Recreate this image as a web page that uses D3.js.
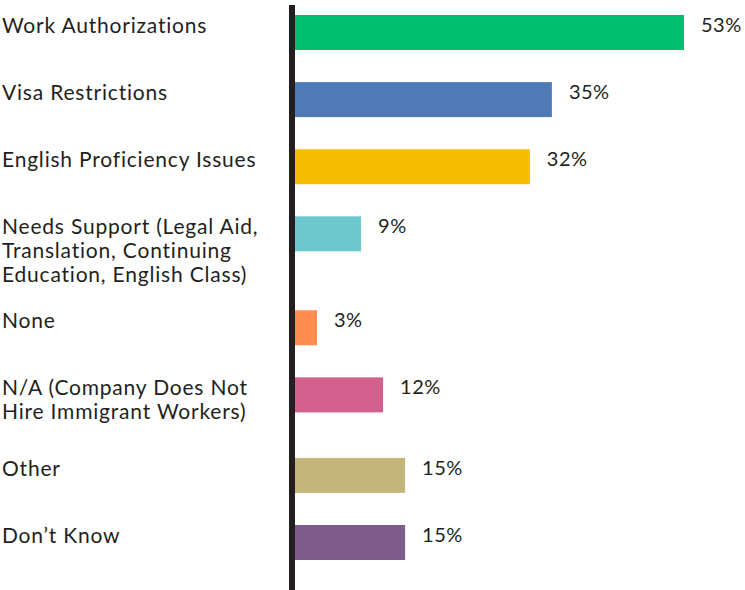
<!DOCTYPE html>
<html>
<head>
<meta charset="utf-8">
<script src="https://cdn.jsdelivr.net/npm/d3@7"></script>
<style>
  html, body { margin: 0; padding: 0; background: #ffffff; }
  svg { display: block; }
  text { font-family: Lato, "Open Sans", sans-serif; fill: #231f20; }
</style>
</head>
<body>
<svg id="chart" width="745" height="590"></svg>
<script>
// Survey responses: barriers to hiring immigrant workers
const categories = [
  ["Work Authorizations"],
  ["Visa Restrictions"],
  ["English Proficiency Issues"],
  ["Needs Support (Legal Aid,", "Translation, Continuing", "Education, English Class)"],
  ["None"],
  ["N/A (Company Does Not", "Hire Immigrant Workers)"],
  ["Other"],
  ["Don\u2019t Know"]
];
const values = [53, 35, 32, 9, 3, 12, 15, 15];
const colors = ["#00bf6f", "#4f7ab5", "#f6be00", "#6cc8cc", "#ff8c50", "#d25f8c", "#c4b57a", "#7e5c8c"];

const svg = d3.select("#chart");
const W = 745, H = 590;
const axisX = 292;
const barH = 35;
const lineH = 24;

// Rows with multi-line labels take a little extra room below them.
const extraPerLine = 0.2;
const rowUnits = [];
let acc = 0;
categories.forEach((lines, i) => {
  rowUnits.push(acc);
  acc += 1 + (lines.length - 1) * extraPerLine;
});
const y = d3.scaleLinear()
  .domain([0, rowUnits[rowUnits.length - 1]])
  .range([15, 525]);

const x = d3.scaleLinear()
  .domain([0, 53])
  .range([295, 684]);

const rows = categories.map((lines, i) => ({
  lines, value: values[i], color: colors[i], top: y(rowUnits[i])
}));

// Bars
svg.append("g").selectAll("rect")
  .data(rows)
  .join("rect")
  .attr("x", x(0))
  .attr("y", d => d.top)
  .attr("width", d => x(d.value) - x(0))
  .attr("height", barH)
  .attr("fill", d => d.color);

// Value labels
svg.append("g").selectAll("text")
  .data(rows)
  .join("text")
  .attr("x", d => x(d.value) + 17)
  .attr("y", d => d.top + 17)
  .attr("font-size", 20)
  .attr("letter-spacing", 0.5)
  .text(d => d.value + "%");

// Category labels
const lab = svg.append("g").selectAll("text")
  .data(rows)
  .join("text")
  .attr("x", 2)
  .attr("y", d => d.top + 18)
  .attr("font-size", 21)
  .attr("letter-spacing", 0.8);
lab.selectAll("tspan")
  .data(d => d.lines)
  .join("tspan")
  .attr("x", 2)
  .attr("dy", (d, i) => i === 0 ? 0 : lineH)
  .text(d => d);

// Baseline axis
svg.append("line")
  .attr("x1", axisX).attr("x2", axisX)
  .attr("y1", 5).attr("y2", H)
  .attr("stroke", "#231f20")
  .attr("stroke-width", 6);
</script>
</body>
</html>
